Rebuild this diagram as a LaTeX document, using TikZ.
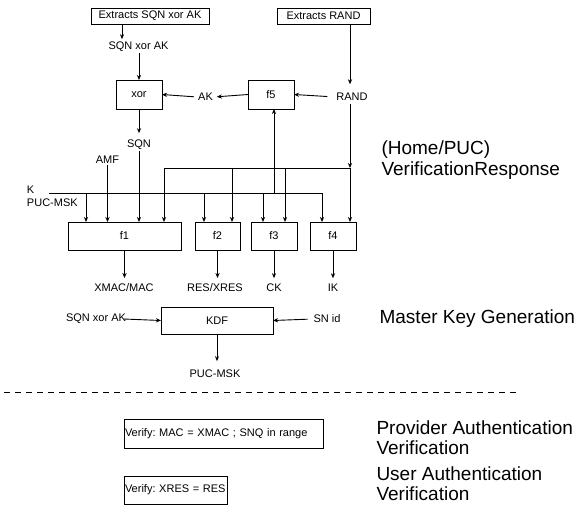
\documentclass[tikz,border=0pt]{standalone}
\usepackage{fontspec}
\setmainfont{Liberation Sans}
\usetikzlibrary{arrows.meta,calc}
\frenchspacing

\begin{document}
\begin{tikzpicture}[x=1pt,y=-1pt,
  every node/.style={outer sep=0pt},
  blk/.style={draw, line width=0.9pt, inner sep=0pt, font=\fontsize{11}{13}\selectfont},
  lbl/.style={inner sep=1pt, font=\fontsize{11}{13}\selectfont},
  big/.style={inner sep=0pt, anchor=base west, font=\fontsize{19}{21}\selectfont},
  wire/.style={line width=0.9pt},
  arr/.style={wire, -{Stealth[length=5pt,width=4.2pt]}},
]
\useasboundingbox (0,0) rectangle (586,520);

% ---------- function blocks ----------
\node[blk, minimum width=118, minimum height=16] (ex1) at (150,16) {Extracts SQN xor AK};
\node[blk, minimum width=93,  minimum height=16] (ex2) at (323.5,16) {Extracts RAND};
\node[blk, minimum width=46,  minimum height=29] (xor) at (139,94.5) {xor};
\node[blk, minimum width=46,  minimum height=29] (f5)  at (271,94.5) {f5};
\node[blk, minimum width=113, minimum height=28] (f1)  at (124.5,236) {f1};
\node[blk, minimum width=45,  minimum height=28] (f2)  at (217.5,236) {f2};
\node[blk, minimum width=46,  minimum height=28] (f3)  at (274,236) {f3};
\node[blk, minimum width=46,  minimum height=28] (f4)  at (333,236) {f4};
\node[blk, minimum width=112, minimum height=27] (kdf) at (217,320.5) {KDF};
\node[blk, minimum height=29, text width=197, inner xsep=1pt, align=left] (v1) at (223.5,433.5) {Verify: MAC = XMAC ; SNQ in range};
\node[blk, minimum height=28, text width=101, inner xsep=1pt, align=left] (v2) at (175.5,490) {Verify: XRES = RES};

% ---------- signal labels ----------
\node[lbl] (sqnak)  at (138.5,47) {SQN xor AK};
\node[lbl] (rand)   at (352,97)   {RAND};
\node[lbl] (ak)     at (205.5,97) {AK};
\node[lbl] (sqn)    at (139,145)  {SQN};
\node[lbl] (amf)    at (107.5,160) {AMF};
\node[lbl, anchor=west] (k)   at (26,190) {K};
\node[lbl, anchor=west] (msk) at (26,203) {PUC-MSK};
\node[lbl] (xmac) at (124,288) {XMAC/MAC};
\node[lbl] (res)  at (215,288) {RES/XRES};
\node[lbl] (ck)   at (274,288) {CK};
\node[lbl] (ik)   at (333,288) {IK};
\node[lbl] (kin)  at (96,319)  {SQN xor AK};
\node[lbl] (snid) at (327,319) {SN id};
\node[lbl] (kout) at (215,374) {PUC-MSK};

% ---------- wiring points ----------
\coordinate (ex1out) at (122,24);
\coordinate (randx)  at (350,0);
\coordinate (busL) at (164,168);
\coordinate (bus2) at (232,168);
\coordinate (bus3) at (285,168);
\coordinate (busR) at (350,168);
\coordinate (kL)  at (49,193);
\coordinate (k1)  at (86,193);
\coordinate (k2)  at (204,193);
\coordinate (k3)  at (263,193);
\coordinate (k5)  at (274,193);
\coordinate (kR)  at (322,193);

% ---------- top section ----------
\draw[arr, shorten >=2pt] (ex1out) -- (ex1out |- sqnak.north);
\draw[arr] (sqnak.south -| xor.north) -- (xor.north);
\draw[arr, shorten >=8pt] (ex2.south -| randx) -- (rand.north -| randx);
\draw[arr, shorten <=8pt] (rand.west) -- (f5.east);
\draw[arr, shorten >=3pt] (f5.west) -- (ak.east);
\draw[arr, shorten <=3pt] (ak.west) -- (xor.east);
\draw[arr, shorten >=6pt] (xor.south) -- (sqn.north);

% ---------- RAND bus ----------
\draw[arr, shorten <=2pt] (rand.south -| busR) -- (busR);
\draw[wire] (busL) -- (busR);
\draw[arr] (busL) -- (busL |- f1.north);
\draw[arr] (bus2) -- (bus2 |- f2.north);
\draw[arr] (bus3) -- (bus3 |- f3.north);
\draw[arr] (busR) -- (busR |- f4.north);

% ---------- key line ----------
\draw[wire] (kL) -- (kR);
\draw[arr] (k1) -- (k1 |- f1.north);
\draw[arr] (k2) -- (k2 |- f2.north);
\draw[arr] (k3) -- (k3 |- f3.north);
\draw[arr] (kR) -- (kR |- f4.north);
\draw[arr] (k5) -- (k5 |- f5.south);

% ---------- remaining f1 inputs ----------
\draw[arr] (amf.south) -- (amf.south |- f1.north);
\draw[arr] (sqn.south) -- (sqn.south |- f1.north);

% ---------- outputs ----------
\draw[arr, shorten >=5pt] (f1.south) -- (f1.south |- xmac.north);
\draw[arr, shorten >=5pt] (f2.south) -- (f2.south |- res.north);
\draw[arr, shorten >=5pt] (f3.south) -- (f3.south |- ck.north);
\draw[arr, shorten >=5pt] (f4.south) -- (f4.south |- ik.north);

% ---------- master key generation ----------
\draw[arr] ($(kin.east)+(-3,0)$) -- (kdf.west);
\draw[arr, shorten <=5pt] (snid.west) -- (kdf.east);
\draw[arr, shorten >=8pt] (kdf.south) -- (kdf.south |- kout.north);

% ---------- separator ----------
\draw[line width=0.7pt, dash pattern=on 6pt off 5pt] (4,392) -- (517,392);

% ---------- section titles ----------
\node[big] (t1a) at (381.5,154.5) {(Home/PUC)};
\node[big] (t1b) at (381.5,175.3) {VerificationResponse};
\node[big] (t2)  at (379.6,323)   {Master Key Generation};
\node[big] (t3a) at (376.5,434)   {Provider Authentication};
\node[big] (t3b) at (376.5,454)   {Verification};
\node[big] (t4a) at (376.5,480)   {User Authentication};
\node[big] (t4b) at (376.5,500)   {Verification};
\end{tikzpicture}
\end{document}
